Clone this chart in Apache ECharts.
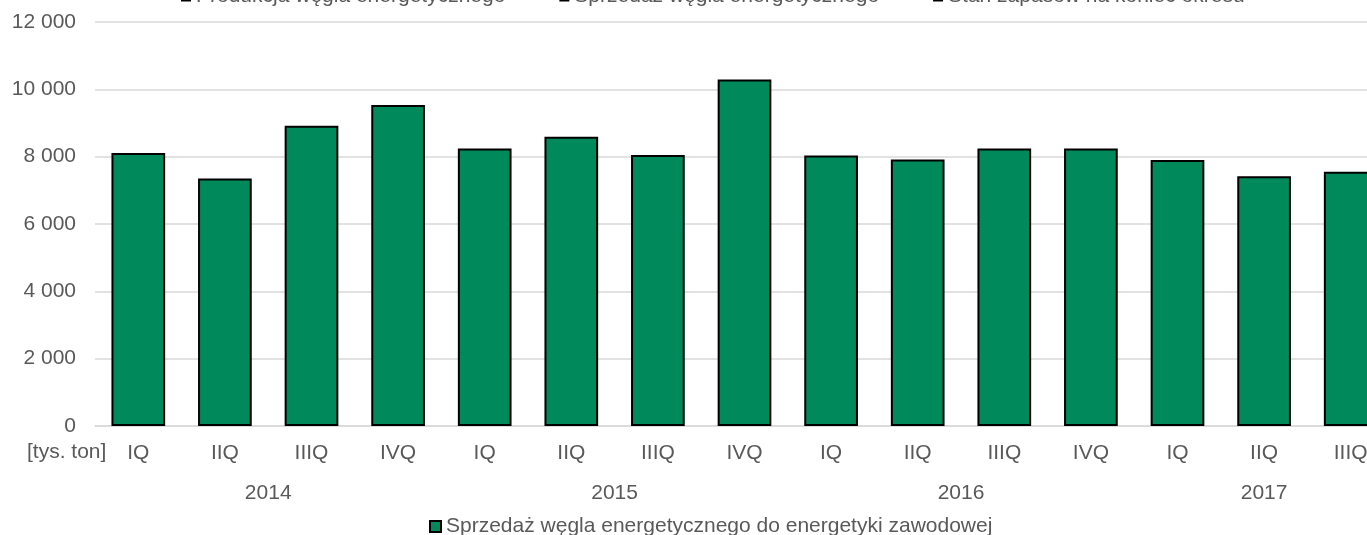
<!DOCTYPE html>
<html>
<head>
<meta charset="utf-8">
<script src="https://cdn.jsdelivr.net/npm/echarts@6/dist/echarts.min.js"></script>
<style>
  html, body { margin: 0; padding: 0; background: #fff; }
  #chart { width: 1367px; height: 535px; }
</style>
</head>
<body>
<div id="chart"></div>
<script>
// dane [tys. ton]
const quarters = ['IQ', 'IIQ', 'IIIQ', 'IVQ', 'IQ', 'IIQ', 'IIIQ', 'IVQ', 'IQ', 'IIQ', 'IIIQ', 'IVQ', 'IQ', 'IIQ', 'IIIQ']
const years = ['2014', '2014', '2014', '2014', '2015', '2015', '2015', '2015', '2016', '2016', '2016', '2016', '2017', '2017', '2017']
const sprzedazZawodowa = [8110, 7350, 8920, 9535, 8245, 8590, 8050, 10290, 8035, 7915, 8245, 8245, 7900, 7420, 7555]
const yTicks = [0, 2000, 4000, 6000, 8000, 10000, 12000]

const mainName = 'Sprzedaż węgla energetycznego do energetyki zawodowej'
const otherNames = ['Produkcja węgla energetycznego', 'Sprzedaż węgla energetycznego', 'Stan zapasów na koniec okresu']

// środki grup lat na osi pomocniczej (0..liczba kwartałów)
const yearCenters = []
const yearLabels = []
years.forEach((y, i) => {
    if (i === 0 || years[i - 1] !== y) {
        let j = i
        while (j < years.length && years[j] === y) j++
        yearCenters.push((i + j) / 2)
        yearLabels.push(y)
    }
})

const font = "'Liberation Sans', Arial, sans-serif"
const textColor = '#595959'
const gridColor = '#d9d9d9'

const fmt = v => String(v).replace(/\B(?=(\d{3})+(?!\d))/g, ' ')

const chart = echarts.init(document.getElementById('chart'))
chart.setOption({
    animation: false,
    textStyle: { fontFamily: font },
    // obszar wykresu wychodzi poza prawą krawędź (wykres przycięty)
    grid: {
        left: 95,
        width: 1299,
        top: 22,
        height: 404,
        containLabel: false,
        outerBoundsMode: 'none'
    },
    legend: [
        {
            data: otherNames,
            left: 176,
            top: -19,
            icon: 'rect',
            itemWidth: 10,
            itemHeight: 10,
            itemGap: 54,
            itemStyle: { color: '#000' },
            textStyle: { color: textColor, fontSize: 21, lineHeight: 21, fontFamily: font }
        },
        {
            data: [mainName],
            left: 424,
            top: 511,
            icon: 'rect',
            itemWidth: 11,
            itemHeight: 11,
            itemStyle: { borderColor: '#000', borderWidth: 2 },
            textStyle: { color: textColor, fontSize: 21, lineHeight: 21, fontFamily: font }
        }
    ],
    xAxis: [
        {
            type: 'category',
            data: quarters,
            axisLine: { show: true, lineStyle: { color: gridColor, width: 1.5 } },
            axisTick: { show: false },
            axisLabel: { color: textColor, fontSize: 21, margin: 17, interval: 0, fontFamily: font }
        },
        {
            type: 'value',
            position: 'bottom',
            offset: 40,
            min: 0,
            max: quarters.length,
            axisLine: { show: false },
            axisTick: { show: false },
            splitLine: { show: false },
            axisLabel: {
                customValues: yearCenters,
                color: textColor,
                fontSize: 21,
                margin: 17,
                fontFamily: font,
                formatter: v => yearLabels[yearCenters.indexOf(v)] || ''
            }
        }
    ],
    yAxis: {
        type: 'value',
        min: yTicks[0],
        max: yTicks[yTicks.length - 1],
        interval: 2000,
        axisLine: { show: false },
        axisTick: { show: false },
        splitLine: { lineStyle: { color: gridColor, width: 1.5 } },
        axisLabel: { color: textColor, fontSize: 21, margin: 19, fontFamily: font, formatter: fmt }
    },
    graphic: [
        {
            type: 'text',
            left: 27,
            top: 442,
            style: { text: '[tys. ton]', fill: textColor, fontSize: 21, fontFamily: font }
        }
    ],
    series: [
        {
            name: mainName,
            type: 'bar',
            xAxisIndex: 0,
            barWidth: '62%',
            data: sprzedazZawodowa,
            itemStyle: { color: '#00895a', borderColor: '#000', borderWidth: 2 }
        },
        ...otherNames.map(n => ({
            name: n,
            type: 'line',
            xAxisIndex: 0,
            data: [],
            itemStyle: { color: '#000' }
        }))
    ]
})
</script>
</body>
</html>
